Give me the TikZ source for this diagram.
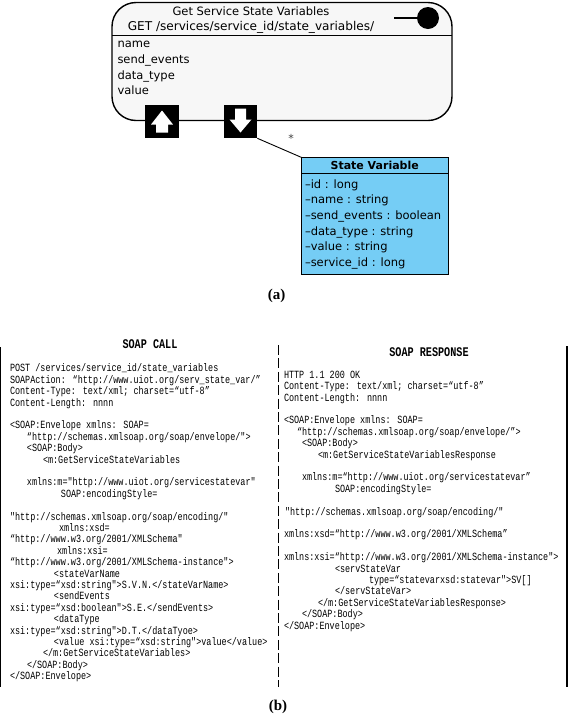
\documentclass[tikz,border=0pt]{standalone}
\usepackage{fontspec}
\usepackage{xcolor}
\usepackage{tikz}
\usetikzlibrary{arrows.meta,positioning,calc}
\setmainfont{DejaVu Sans}
\newfontfamily\codefont[FakeStretch=0.77]{Liberation Mono}
\newfontfamily\capfont{Liberation Serif}
\definecolor{state2}{HTML}{F7F7F7}
\definecolor{class2}{HTML}{75CDF5}
\newcommand{\ind}[1]{\hspace*{#1pt}}

\begin{document}
\begin{tikzpicture}[
          x=1pt,y=-1pt,
          every node/.style={inner sep=0pt,outer sep=0pt},
          statebox/.style={draw,line width=1.4pt,rounded corners=24pt,fill=state2,
                      minimum width=340pt,minimum height=118pt},
          classbox/.style={draw,line width=0.8pt,fill=class2,
                      minimum width=147pt,minimum height=116.5pt},
          umltext/.style={font=\fontsize{11.5}{15.6}\selectfont,align=left},
          pin/.style={fill=black,minimum size=33.5pt},
          code/.style={font=\codefont\fontsize{11}{11.4}\selectfont,align=left,anchor=north west},
          codehead/.style={font=\codefont\bfseries\fontsize{13.2}{15}\selectfont},
          figlabel/.style={font=\capfont\bfseries\fontsize{15}{17}\selectfont},
          rule/.style={line width=1.3pt},
      ]
        \useasboundingbox (0,0) rectangle (568,716);

        % (a) resource model
        \node[statebox] (state) at (282,61.5) {};
        \draw[line width=1pt] (state.west |- 0,35) -- (state.east |- 0,35);
        \node[umltext] (title) at (251,11) {Get Service State Variables};
        \node[umltext,font=\fontsize{12.1}{15.6}\selectfont] (uri) at (251,27) {GET /services/service\_id/state\_variables/};
        \node[umltext,anchor=north west] (params) at (117.5,41.5)
          {name\\send\_events\\data\_type\\value};
        \node[circle,fill=black,minimum size=22pt] (ball) at (428,18) {};
        \coordinate (stub) at (394,18);
        \draw[line width=1.2pt] (stub) -- (ball);

        \node[pin] (pinup) at (162,121.5) {};
        \node[pin] (pindown) at (240.5,121.5) {};
        \fill[white,shift={(pinup.center)}] (0,-11) -- (11,3) -- (6,3) -- (6,11) -- (-6,11) -- (-6,3) -- (-11,3) -- cycle;
        \fill[white,shift={(pindown.center)}] (0,11) -- (11,-2) -- (5.5,-2) -- (5.5,-13) -- (-5.5,-13) -- (-5.5,-2) -- (-11,-2) -- cycle;

        \node[classbox] (class) at (375.3,215.8) {};
        \draw[line width=0.8pt] (class.west |- 0,173.5) -- (class.east |- 0,173.5);
        \node[umltext,font=\bfseries\fontsize{11}{15}\selectfont] (classname) at (374.7,165.7) {State Variable};
        \node[umltext,anchor=north west] (fields) at (305,179.5)
          {–id : long\\–name : string\\–send\_events : boolean\\–data\_type : string\\–value : string\\–service\_id : long};
        \draw[line width=0.9pt] (pindown.south east) -- (class.north west);
        \node[font=\fontsize{11}{11}\selectfont,text=black!75] (mult) at (291,138) {*};
        \node[figlabel] (capa) at (276.7,296) {(a)};

        % (b) message frames
        \draw[rule] (0.5,347) -- (0.5,687);
        \draw[rule] (567,346) -- (567,687);
        \draw[line width=1pt,dash pattern=on 10pt off 3.4pt] (278,345) -- (278,687);

        \node[codehead] (callhead) at (150,344) {SOAP CALL};
        \node[codehead] (resphead) at (429,352) {SOAP RESPONSE};

        \node[code] (call) at (10,364) {POST /services/service\_id/state\_variables\\
SOAPAction: “http://www.uiot.org/serv\_state\_var/”\\
Content-Type: text/xml; charset=“utf-8”\\
Content-Length: nnnn\\
\strut\\
<SOAP:Envelope xmlns: SOAP=\\
\ind{17}“http://schemas.xmlsoap.org/soap/envelope/">\\
\ind{17}<SOAP:Body>\\
\ind{33}<m:GetServiceStateVariables\\
\strut\\
\ind{17}xmlns:m="http://www.uiot.org/servicestatevar"\\
\ind{51}SOAP:encodingStyle=\\
\strut\\
"http://schemas.xmlsoap.org/soap/encoding/"\\
\ind{49}xmlns:xsd=\\
“http://www.w3.org/2001/XMLSchema"\\
\ind{47}xmlns:xsi=\\
“http://www.w3.org/2001/XMLSchema-instance">\\
\ind{44}<stateVarName\\
xsi:type=“xsd:string">S.V.N.</stateVarName>\\
\ind{44}<sendEvents\\
xsi:type=“xsd:boolean">S.E.</sendEvents>\\
\ind{44}<dataType\\
xsi:type=“xsd:string">D.T.</dataTyoe>\\
\ind{44}<value xsi:type=“xsd:string">value</value>\\
\ind{33}</m:GetServiceStateVariables>\\
\ind{17}</SOAP:Body>\\
</SOAP:Envelope>};

        \node[code] (resp) at (284,371) {HTTP 1.1 200 OK\\
Content-Type: text/xml; charset=“utf-8”\\
Content-Length: nnnn\\
\strut\\
<SOAP:Envelope xmlns: SOAP=\\
\ind{13}“http://schemas.xmlsoap.org/soap/envelope/”>\\
\ind{18}<SOAP:Body>\\
\ind{34}<m:GetServiceStateVariablesResponse\\
\strut\\
\ind{18}xmlns:m=“http://www.uiot.org/servicestatevar”\\
\ind{51}SOAP:encodingStyle=\\
\strut\\
\ind{1}"http://schemas.xmlsoap.org/soap/encoding/"\\
\strut\\
xmlns:xsd=“http://www.w3.org/2001/XMLSchema”\\
\strut\\
xmlns:xsi=“http://www.w3.org/2001/XMLSchema-instance">\\
\ind{51}<servStateVar\\
\ind{85}type=“statevarxsd:statevar">SV[]\\
\ind{51}</servStateVar>\\
\ind{34}</m:GetServiceStateVariablesResponse>\\
\ind{18}</SOAP:Body>\\
</SOAP:Envelope>};

        \node[figlabel] (capb) at (278,707) {(b)};
      \end{tikzpicture}
\end{document}
